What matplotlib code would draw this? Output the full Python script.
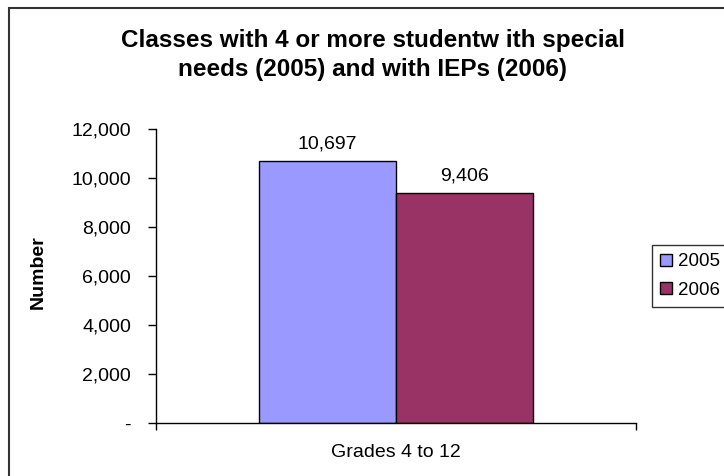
import matplotlib.pyplot as plt
from matplotlib.patches import Rectangle
from matplotlib.ticker import FuncFormatter
import numpy as np

plt.rcParams['font.family'] = ['Liberation Sans', 'DejaVu Sans']

# Data
categories = ['Grades 4 to 12']
years = ['2005', '2006']
values_2005 = [10697]
values_2006 = [9406]
colors = ['#9999FF', '#993366']

W, H = 724, 476
fs = 14
fig = plt.figure(figsize=(W / 100, H / 100), dpi=100)

# chart area border (top and left edges visible)
fig.patches.append(Rectangle((9 / W, -0.1), 1.2, 1.1 - 8 / H,
                             transform=fig.transFigure, fill=False,
                             edgecolor='#333333', linewidth=1.5))

ax = fig.add_axes([156 / W, 1 - 423 / H, 480 / W, 294 / H])

x = np.arange(len(categories))
width = 0.285
b1 = ax.bar(x - width / 2, values_2005, width, color=colors[0],
            edgecolor='black', linewidth=1, label=years[0])
b2 = ax.bar(x + width / 2, values_2006, width, color=colors[1],
            edgecolor='black', linewidth=1, label=years[1])

fmt = lambda v: '{:,.0f}'.format(v)
ax.bar_label(b1, labels=[fmt(v) for v in values_2005], padding=6, fontsize=fs)
ax.bar_label(b2, labels=[fmt(v) for v in values_2006], padding=6, fontsize=fs)

ax.set_xlim(-0.5, 0.5)
ax.set_ylim(0, 12000)
ax.set_yticks(np.arange(0, 12001, 2000))
ax.yaxis.set_major_formatter(FuncFormatter(lambda v, p: '-' if v == 0 else '{:,.0f}'.format(v)))
ax.set_xticks(x)
ax.set_xticklabels(categories, fontsize=fs)
ax.set_xticks([-0.5, 0.5], minor=True)
ax.tick_params(axis='x', which='major', length=0, pad=15)
ax.tick_params(axis='x', which='minor', length=5, width=1)
ax.tick_params(axis='y', length=6, width=1, labelsize=fs, pad=12)

for s in ['top', 'right']:
    ax.spines[s].set_visible(False)
for s in ['left', 'bottom']:
    ax.spines[s].set_linewidth(1)

ax.set_ylabel('Number', fontsize=fs, fontweight='bold')
ax.yaxis.set_label_coords(47 / W, 1 - 272 / H, transform=fig.transFigure)

fig.text(373 / W, 1 - 55 / H,
         'Classes with 4 or more studentw ith special\nneeds (2005) and with IEPs (2006)',
         ha='center', va='center', fontsize=17.5, fontweight='bold', linespacing=1.3)

leg = ax.legend(loc='upper left', bbox_to_anchor=(652 / W, 1 - 245 / H),
                bbox_transform=fig.transFigure, borderaxespad=0, fontsize=13.5,
                frameon=True, fancybox=False, edgecolor='black',
                handlelength=0.6, handleheight=0.6, handletextpad=0.35,
                borderpad=0.45, labelspacing=0.6)
leg.get_frame().set_linewidth(1)

fig.savefig('out.png', dpi=100)
